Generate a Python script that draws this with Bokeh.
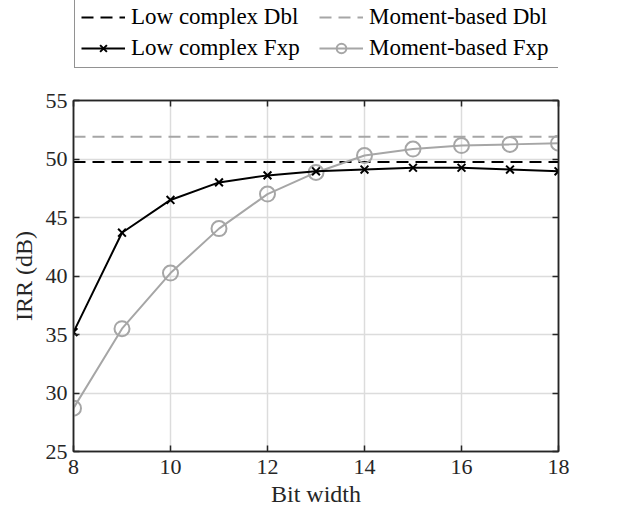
from bokeh.plotting import figure
from bokeh.layouts import column
from bokeh.models import Legend, LegendItem, LinearAxis, FixedTicker, Range1d, CustomJSTickFormatter
from bokeh.embed import file_html
from bokeh.resources import INLINE

bit_width = [8, 9, 10, 11, 12, 13, 14, 15, 16, 17, 18]
low_fxp = [35.2, 43.7, 46.5, 48.0, 48.6, 48.95, 49.1, 49.25, 49.25, 49.1, 48.95]
mom_fxp = [28.7, 35.5, 40.25, 44.05, 47.0, 48.85, 50.3, 50.85, 51.15, 51.25, 51.35]
low_dbl = 49.75
mom_dbl = 51.9
x_ticks = [8, 10, 12, 14, 16, 18]
y_ticks = [25, 30, 35, 40, 45, 50, 55]

FONT = "Liberation Serif"
DARK = "#262626"
GREY = "#a6a6a6"
DASH = "12 7"

xs_full = [min(bit_width), max(bit_width)]


def draw_series(fig):
    r_mdbl = fig.line(xs_full, [mom_dbl, mom_dbl], line_color=GREY, line_width=2, line_dash=DASH)
    r_ldbl = fig.line(xs_full, [low_dbl, low_dbl], line_color="black", line_width=2, line_dash=DASH)
    r_mf_l = fig.line(bit_width, mom_fxp, line_color=GREY, line_width=2)
    r_mf_m = fig.scatter(bit_width, mom_fxp, marker="circle", size=15, line_color=GREY,
                         line_width=2, fill_color=None)
    r_lf_l = fig.line(bit_width, low_fxp, line_color="black", line_width=2)
    r_lf_m = fig.scatter(bit_width, low_fxp, marker="x", size=11, line_color="black", line_width=2)
    return r_ldbl, r_mdbl, (r_lf_l, r_lf_m), (r_mf_l, r_mf_m)


# ---- main plot ----
p = figure(width=623, height=437, output_backend="svg", toolbar_location=None,
           x_range=Range1d(8, 18), y_range=Range1d(25, 55),
           min_border_left=73, min_border_right=65, min_border_top=25, min_border_bottom=61)
p.outline_line_color = DARK
p.outline_line_width = 1.5

for ax in (p.xaxis[0], p.yaxis[0]):
    ax.axis_line_color = DARK
    ax.axis_line_width = 1.5
    ax.major_tick_in = 6
    ax.major_tick_out = 0
    ax.major_tick_line_color = DARK
    ax.major_tick_line_width = 1.5
    ax.minor_tick_line_color = None
    ax.major_label_text_font = FONT
    ax.major_label_text_font_size = "22px"
    ax.major_label_text_color = DARK
    ax.axis_label_text_font = FONT
    ax.axis_label_text_font_size = "24px"
    ax.axis_label_text_font_style = "normal"
    ax.axis_label_text_color = DARK
p.xaxis[0].ticker = FixedTicker(ticks=x_ticks)
p.yaxis[0].ticker = FixedTicker(ticks=y_ticks)
p.xaxis[0].axis_label = "Bit width"
p.yaxis[0].axis_label = "IRR (dB)"
p.xaxis[0].axis_label_standoff = 4
p.yaxis[0].axis_label_standoff = 6
p.xaxis[0].major_label_standoff = 8
p.yaxis[0].major_label_standoff = 6

blank = CustomJSTickFormatter(code="return ''")
top = LinearAxis(ticker=FixedTicker(ticks=x_ticks), formatter=blank,
                 major_tick_in=6, major_tick_out=0, minor_tick_line_color=None,
                 axis_line_color=DARK, axis_line_width=1.5, major_label_standoff=0,
                 major_tick_line_color=DARK, major_tick_line_width=1.5)
right = LinearAxis(ticker=FixedTicker(ticks=y_ticks), formatter=blank,
                   major_tick_in=6, major_tick_out=0, minor_tick_line_color=None,
                   axis_line_color=DARK, axis_line_width=1.5, major_label_standoff=0,
                   major_tick_line_color=DARK, major_tick_line_width=1.5)
p.add_layout(top, "above")
p.add_layout(right, "right")

p.xgrid.ticker = FixedTicker(ticks=x_ticks)
p.ygrid.ticker = FixedTicker(ticks=y_ticks)
p.grid.grid_line_color = "#dcdcdc"
p.grid.grid_line_width = 1.5

draw_series(p)

# ---- legend strip (series drawn outside its view, only the legend shows) ----
lg = figure(width=623, height=75, output_backend="svg", toolbar_location=None,
            x_range=Range1d(0, 1), y_range=Range1d(0, 1),
            x_axis_type=None, y_axis_type=None,
            min_border_left=0, min_border_right=0, min_border_top=0, min_border_bottom=0)
lg.outline_line_color = None
lg.grid.visible = False
r_ldbl, r_mdbl, r_lf, r_mf = draw_series(lg)

legend = Legend(items=[
    LegendItem(label="Low complex Dbl", renderers=[r_ldbl]),
    LegendItem(label="Moment-based Dbl", renderers=[r_mdbl]),
    LegendItem(label="Low complex Fxp", renderers=list(r_lf)),
    LegendItem(label="Moment-based Fxp", renderers=list(r_mf)),
], orientation="horizontal", ncols=2, location=(1, 7))
legend.label_text_font = FONT
legend.label_text_font_size = "23px"
legend.label_text_color = "black"
legend.glyph_width = 44
legend.glyph_height = 24
legend.label_height = 24
legend.label_width = 183
legend.label_standoff = 6
legend.spacing = 5
legend.padding = 6
legend.margin = 0
legend.border_line_color = DARK
legend.border_line_width = 1.5
legend.background_fill_alpha = 1
lg.add_layout(legend, "center")

layout = column(lg, p, spacing=0)
open("out.html", "w").write(file_html(layout, INLINE))
